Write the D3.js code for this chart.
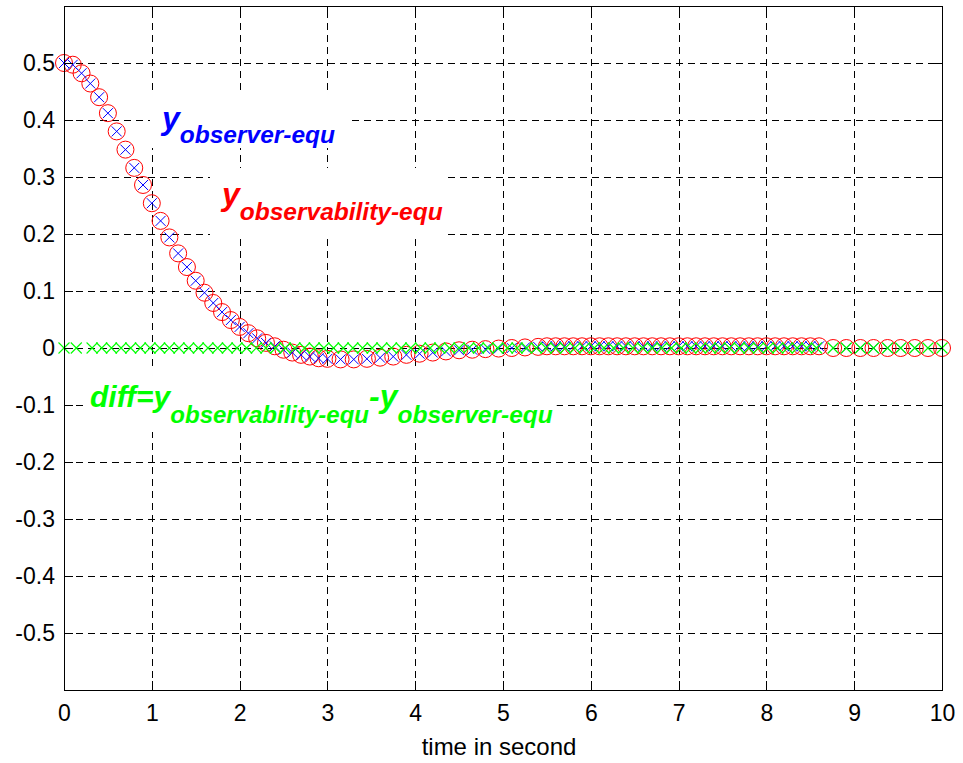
<!DOCTYPE html>
<html>
<head>
<meta charset="utf-8">
<script src="https://cdn.jsdelivr.net/npm/d3@7"></script>
<style>
  html, body { margin: 0; padding: 0; background: #fff; }
  svg { display: block; font-family: "Liberation Sans", Arial, sans-serif; }
</style>
</head>
<body>
<svg id="chart" width="963" height="763"></svg>
<script>
// Output samples of both equations (adaptive solver time grid)
const tSample = [
  0.0, 0.1, 0.2, 0.3, 0.4, 0.5, 0.6, 0.7, 0.8, 0.9,
  1.0, 1.1, 1.2, 1.3, 1.4, 1.5, 1.6, 1.7, 1.8, 1.9,
  2.0, 2.1, 2.2, 2.3, 2.4, 2.5, 2.6, 2.7, 2.8, 2.9,
  3.0, 3.15, 3.3, 3.45, 3.6, 3.75, 3.9, 4.05, 4.2, 4.35,
  4.5, 4.65, 4.8, 4.95, 5.1, 5.25, 5.4, 5.5, 5.6, 5.7,
  5.8, 5.9, 6.0, 6.1, 6.2, 6.3, 6.4, 6.5, 6.6, 6.7,
  6.8, 6.9, 7.0, 7.1, 7.2, 7.3, 7.4, 7.5, 7.6, 7.7,
  7.8, 7.9, 8.0, 8.1, 8.2, 8.3, 8.4, 8.5, 8.6, 8.76,
  8.91, 9.07, 9.22, 9.38, 9.53, 9.69, 9.84, 10.0
];

const yObservabilityEqu = [
  0.500, 0.497, 0.482, 0.464, 0.440, 0.412, 0.380, 0.348, 0.316, 0.286,
  0.254, 0.223, 0.194, 0.166, 0.142, 0.118, 0.097, 0.079, 0.063, 0.049,
  0.037, 0.026, 0.017, 0.009, 0.003, -0.003, -0.008, -0.012, -0.015, -0.018,
  -0.019, -0.020, -0.020, -0.019, -0.017, -0.015, -0.012, -0.010, -0.008, -0.006,
  -0.004, -0.003, -0.002, -0.001, 0.000, 0.001, 0.002, 0.003, 0.003, 0.003,
  0.003, 0.003, 0.003, 0.003, 0.003, 0.003, 0.003, 0.003, 0.003, 0.003,
  0.003, 0.003, 0.003, 0.003, 0.003, 0.003, 0.003, 0.003, 0.003, 0.003,
  0.003, 0.003, 0.003, 0.003, 0.003, 0.003, 0.003, 0.003, 0.003, 0.000,
  0.000, 0.000, 0.000, 0.000, 0.000, 0.000, 0.000, 0.000
];

const yObserverEqu = [
  0.500, 0.497, 0.482, 0.464, 0.440, 0.412, 0.380, 0.348, 0.316, 0.286,
  0.254, 0.223, 0.194, 0.166, 0.142, 0.118, 0.097, 0.079, 0.063, 0.049,
  0.037, 0.026, 0.017, 0.009, 0.003, -0.003, -0.008, -0.012, -0.015, -0.018,
  -0.019, -0.020, -0.020, -0.019, -0.017, -0.015, -0.012, -0.010, -0.008, -0.006,
  -0.004, -0.003, -0.002, -0.001, 0.000, 0.001, 0.002, 0.003, 0.003, 0.003,
  0.003, 0.003, 0.003, 0.003, 0.003, 0.003, 0.003, 0.003, 0.003, 0.003,
  0.003, 0.003, 0.003, 0.003, 0.003, 0.003, 0.003, 0.003, 0.003, 0.003,
  0.003, 0.003, 0.003, 0.003, 0.003, 0.003, 0.003, 0.003, 0.003, 0.000,
  0.000, 0.000, 0.000, 0.000, 0.000, 0.000, 0.000, 0.000
];

// Difference between the two outputs, on its own time grid
const tDiff = [
  0.0, 0.14, 0.32, 0.43, 0.54, 0.65, 0.76, 0.87, 0.98, 1.09,
  1.20, 1.31, 1.42, 1.53, 1.64, 1.75, 1.86, 1.97, 2.08, 2.19,
  2.30, 2.41, 2.52, 2.63, 2.74, 2.85, 2.96, 3.07, 3.18, 3.29,
  3.40, 3.51, 3.62, 3.73, 3.84, 3.95, 4.06, 4.17, 4.28, 4.39,
  4.50, 4.61, 4.72, 4.83, 4.94, 5.05, 5.16, 5.27, 5.38, 5.49,
  5.60, 5.71, 5.82, 5.93, 6.04, 6.15, 6.26, 6.37, 6.48, 6.59,
  6.70, 6.81, 6.92, 7.03, 7.14, 7.25, 7.36, 7.47, 7.58, 7.69,
  7.80, 7.91, 8.02, 8.13, 8.24, 8.35, 8.46, 8.57, 8.76, 8.91,
  9.07, 9.22, 9.38, 9.53, 9.69, 9.84, 10.0
];

const yDiff = [
  0, 0, 0, 0, 0, 0, 0, 0, 0, 0,
  0, 0, 0, 0, 0, 0, 0, 0, 0, 0,
  0, 0, 0, 0, 0, 0, 0, 0, 0, 0,
  0, 0, 0, 0, 0, 0, 0, 0, 0, 0,
  0, 0, 0, 0, 0, 0, 0, 0, 0, 0,
  0, 0, 0, 0, 0, 0, 0, 0, 0, 0,
  0, 0, 0, 0, 0, 0, 0, 0, 0, 0,
  0, 0, 0, 0, 0, 0, 0, 0, 0, 0,
  0, 0, 0, 0, 0, 0, 0
];

const xTicks = [0, 1, 2, 3, 4, 5, 6, 7, 8, 9, 10];
const yTicks = [-0.5, -0.4, -0.3, -0.2, -0.1, 0, 0.1, 0.2, 0.3, 0.4, 0.5];
const xDomain = [0, 10];
const yDomain = [-0.6, 0.6];

const svg = d3.select("#chart");
const W = 963, H = 763;
const plot = { left: 64, right: 942, top: 6, bottom: 690 };

svg.append("rect").attr("width", W).attr("height", H).attr("fill", "#fff");

const x = d3.scaleLinear().domain(xDomain).range([plot.left, plot.right]);
const y = d3.scaleLinear().domain(yDomain).range([plot.bottom, plot.top]);

// Dashed grid
const grid = svg.append("g")
  .attr("stroke", "#000").attr("stroke-width", 1)
  .attr("stroke-dasharray", "7,5").attr("shape-rendering", "crispEdges");
grid.selectAll("line.vx").data(xTicks.filter(d => d > xDomain[0] && d < xDomain[1]))
  .join("line").attr("class", "vx")
  .attr("x1", d => Math.round(x(d)) + 0.5).attr("x2", d => Math.round(x(d)) + 0.5)
  .attr("y1", plot.bottom).attr("y2", plot.top);
grid.selectAll("line.hy").data(yTicks)
  .join("line").attr("class", "hy")
  .attr("y1", d => Math.round(y(d)) + 0.5).attr("y2", d => Math.round(y(d)) + 0.5)
  .attr("x1", plot.left).attr("x2", plot.right);

// Annotations, each on a white box that masks the grid behind it
function drawLabel(cx, cy, color, parts, pad) {
  const g = svg.append("g");
  const t = g.append("text")
    .attr("x", cx).attr("y", cy)
    .attr("fill", color)
    .attr("font-weight", "bold").attr("font-style", "italic");
  parts.forEach(p => {
    t.append("tspan").attr("font-size", p.size).attr("dy", p.dy).text(p.text);
  });
  const b = t.node().getBBox();
  g.insert("rect", "text")
    .attr("x", b.x - pad.l).attr("y", b.y - pad.t)
    .attr("width", b.width + pad.l + pad.r).attr("height", b.height + pad.t + pad.b)
    .attr("fill", "#fff");
}

drawLabel(162, 129, "#0000ff", [
  { text: "y", size: 32, dy: 0 },
  { text: "observer-equ", size: 24.5, dy: 14 }
], { l: 10, r: 16, t: 8, b: 0 });
drawLabel(222, 205, "#ff0000", [
  { text: "y", size: 32, dy: 0 },
  { text: "observability-equ", size: 24.5, dy: 15 }
], { l: 10, r: 4, t: 8, b: 10 });
drawLabel(90, 407, "#00ff00", [
  { text: "diff=y", size: 30, dy: 0 },
  { text: "observability-equ", size: 24, dy: 16 },
  { text: "-y", size: 32, dy: -16 },
  { text: "observer-equ", size: 24.5, dy: 16 }
], { l: 4, r: 4, t: 10, b: 4 });

// Data markers
const obsEquPts = tSample.map((t, i) => ({ t, v: yObservabilityEqu[i] }));
const obsrPts = tSample.map((t, i) => ({ t, v: yObserverEqu[i] }));
const diffPts = tDiff.map((t, i) => ({ t, v: yDiff[i] }));

svg.append("g").selectAll("circle").data(obsEquPts).join("circle")
  .attr("cx", d => x(d.t)).attr("cy", d => y(d.v)).attr("r", 8.5)
  .attr("fill", "none").attr("stroke", "#ff0000").attr("stroke-width", 1);

const cross = s => `M${-s},${-s}L${s},${s}M${-s},${s}L${s},${-s}`;
svg.append("g").selectAll("path").data(obsrPts).join("path")
  .attr("transform", d => `translate(${x(d.t)},${y(d.v)})`)
  .attr("d", cross(5)).attr("fill", "none").attr("stroke", "#0000ff").attr("stroke-width", 1);

svg.append("g").selectAll("path").data(diffPts).join("path")
  .attr("transform", d => `translate(${x(d.t)},${y(d.v)})`)
  .attr("d", cross(5.5)).attr("fill", "none").attr("stroke", "#00ff00").attr("stroke-width", 1.1);

// Axes box and inward ticks
const frame = svg.append("g").attr("stroke", "#000").attr("stroke-width", 1).attr("shape-rendering", "crispEdges");
frame.append("rect")
  .attr("x", plot.left + 0.5).attr("y", plot.top + 0.5)
  .attr("width", plot.right - plot.left).attr("height", plot.bottom - plot.top)
  .attr("fill", "none");
const tl = 9;
xTicks.forEach(d => {
  const px = Math.round(x(d)) + 0.5;
  frame.append("line").attr("x1", px).attr("x2", px).attr("y1", plot.bottom).attr("y2", plot.bottom - tl);
  frame.append("line").attr("x1", px).attr("x2", px).attr("y1", plot.top).attr("y2", plot.top + tl);
});
yTicks.forEach(d => {
  const py = Math.round(y(d)) + 0.5;
  frame.append("line").attr("y1", py).attr("y2", py).attr("x1", plot.left).attr("x2", plot.left + tl);
  frame.append("line").attr("y1", py).attr("y2", py).attr("x1", plot.right).attr("x2", plot.right - tl);
});

// Tick labels via d3 axes
const fmt = d => d === 0 ? "0" : d3.format(".1f")(d).replace("−", "-");
const xAxis = svg.append("g").attr("transform", `translate(0,${plot.bottom})`)
  .call(d3.axisBottom(x).tickValues(xTicks).tickSize(0).tickPadding(15).tickFormat(d3.format("d")));
const yAxis = svg.append("g").attr("transform", `translate(${plot.left},0)`)
  .call(d3.axisLeft(y).tickValues(yTicks).tickSize(0).tickPadding(9).tickFormat(fmt));
[xAxis, yAxis].forEach(a => {
  a.select(".domain").remove();
  a.selectAll("text").attr("font-size", 23).attr("fill", "#000")
    .attr("font-family", "'Liberation Sans', Arial, sans-serif");
});

svg.append("text")
  .attr("x", 499).attr("y", 755).attr("text-anchor", "middle")
  .attr("font-size", 24).attr("fill", "#000")
  .text("time in second");
</script>
</body>
</html>
